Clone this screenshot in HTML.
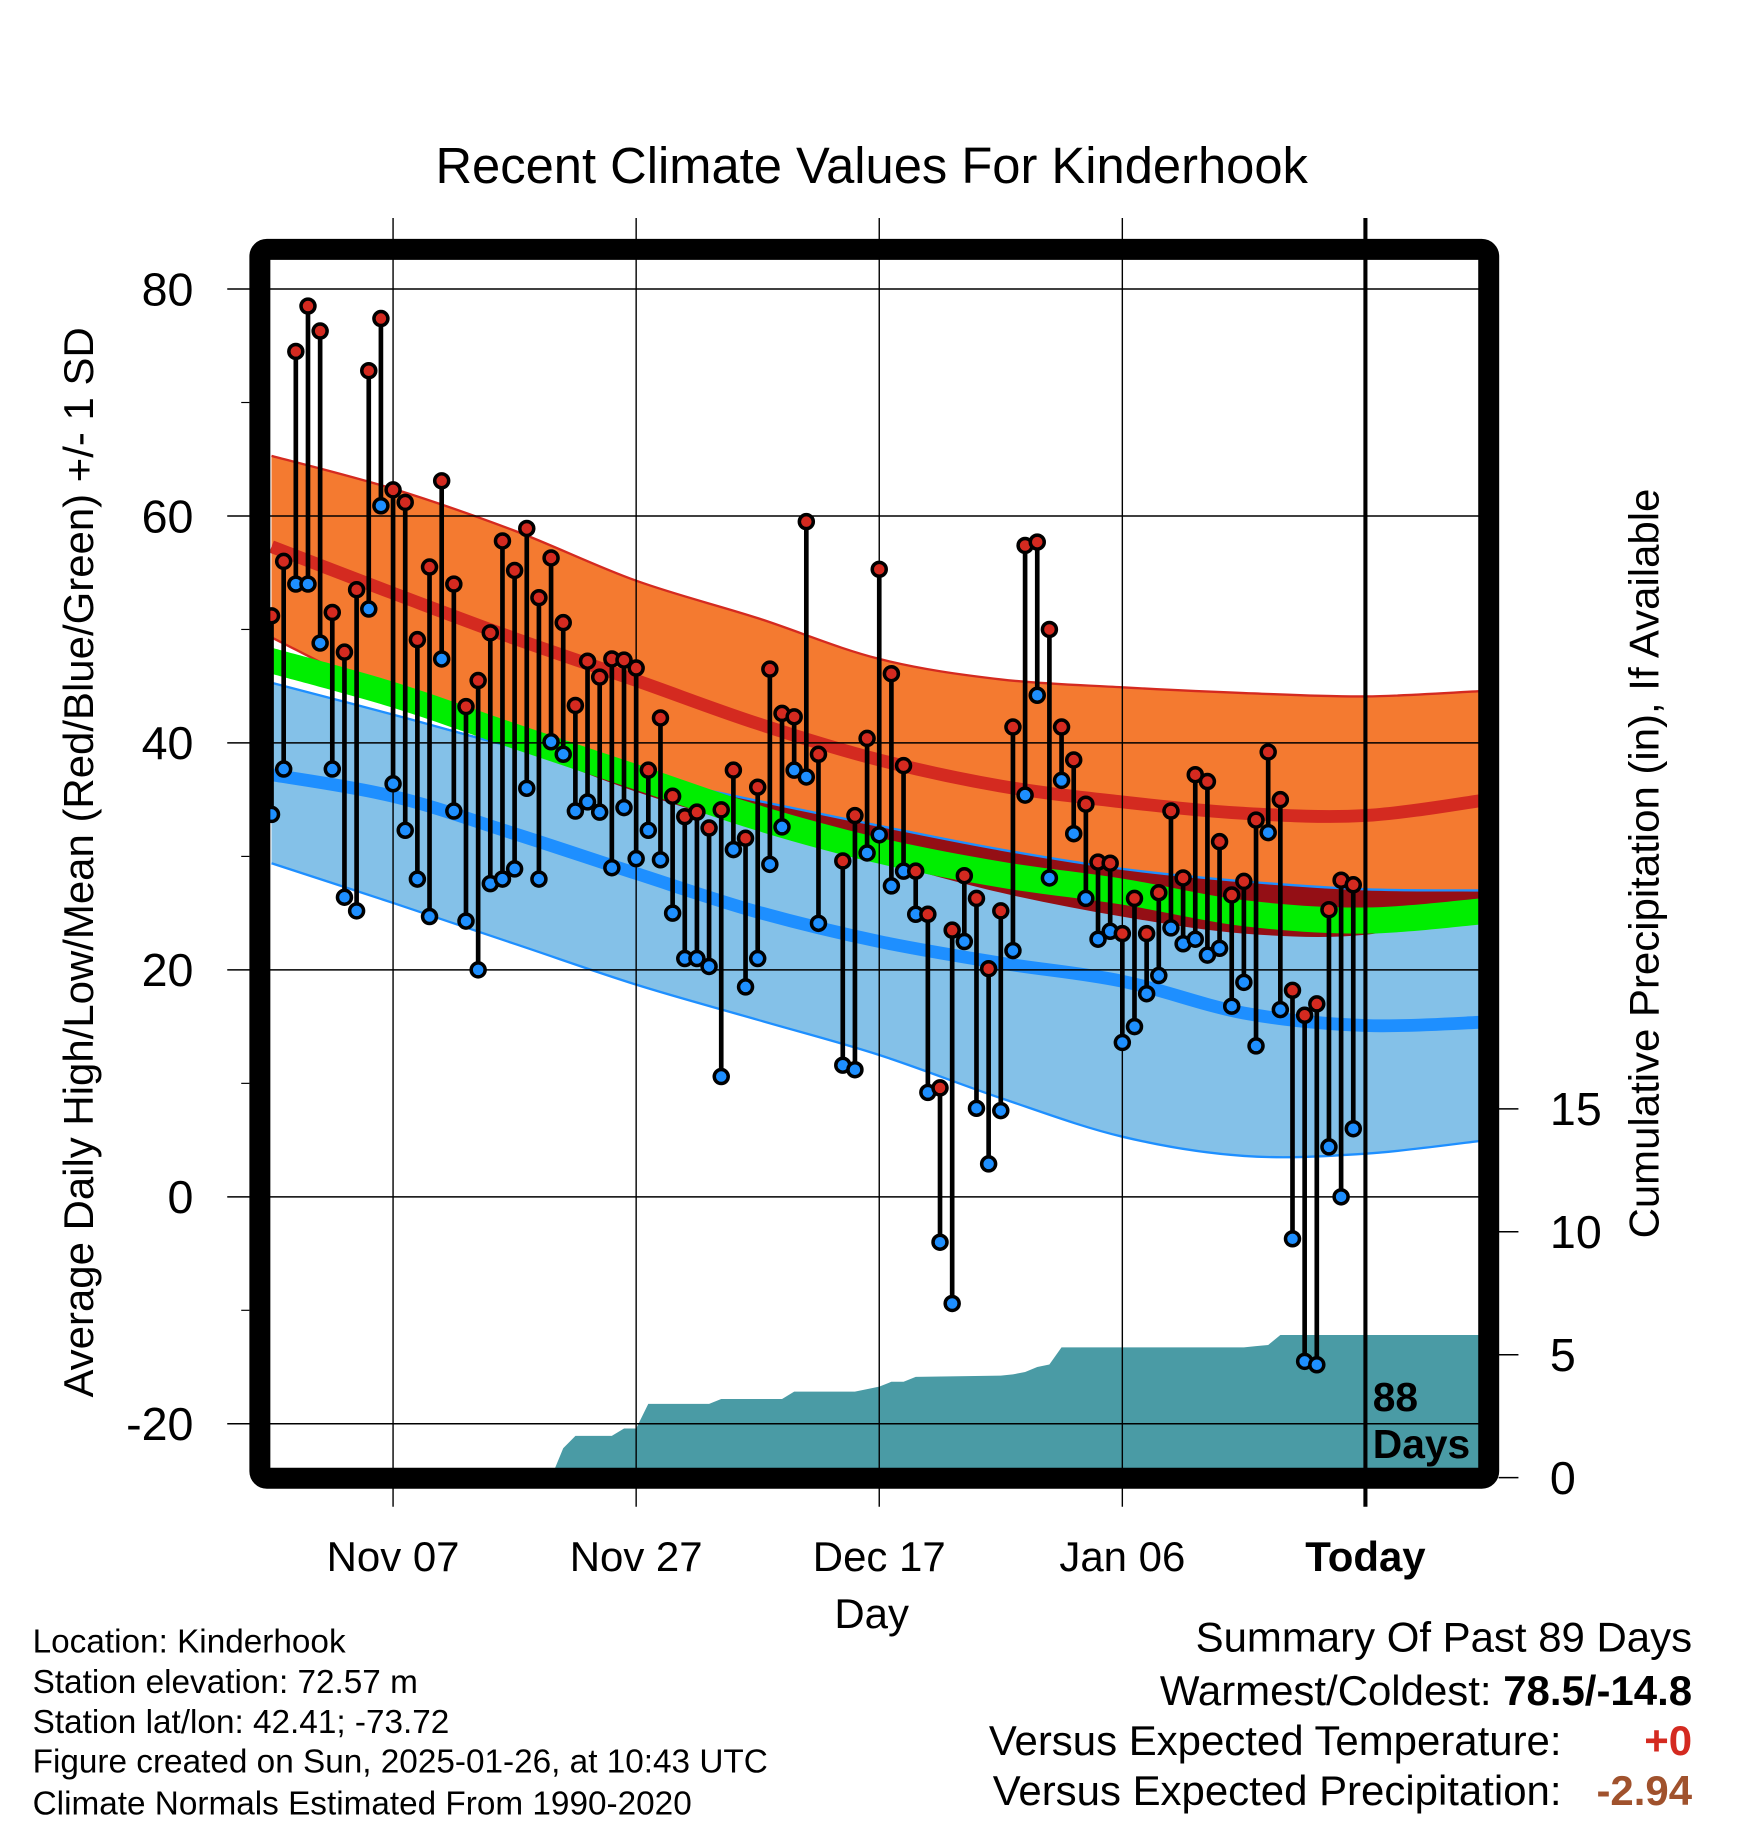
<!DOCTYPE html>
<html><head><meta charset="utf-8"><style>
html,body{margin:0;padding:0;background:#fff;}
svg{display:block;font-family:"Liberation Sans",Arial,sans-serif;}
</style></head><body>
<svg id="chart" width="1748" height="1828" viewBox="0 0 1500 1568.6" xmlns="http://www.w3.org/2000/svg">
<defs><clipPath id="plotClip"><rect x="232" y="223" width="1037" height="1037"/></clipPath></defs>
<rect x="0" y="0" width="1500" height="1568.6" fill="#fff"/>
<text x="748" y="157" font-size="43.5" text-anchor="middle">Recent Climate Values For Kinderhook</text>
<g id="plot" clip-path="url(#plotClip)"></g>
<text transform="translate(80,740) rotate(-90)" font-size="36" text-anchor="middle">Average Daily High/Low/Mean (Red/Blue/Green) +/- 1 SD</text>
<text transform="translate(1423,741) rotate(-90)" font-size="36" text-anchor="middle">Cumulative Precipitation (in), If Available</text>
<text x="748" y="1397" font-size="36" text-anchor="middle">Day</text>
<g font-size="28.6">
<text x="28" y="1418">Location: Kinderhook</text>
<text x="28" y="1453">Station elevation: 72.57 m</text>
<text x="28" y="1487">Station lat/lon: 42.41; -73.72</text>
<text x="28" y="1521">Figure created on Sun, 2025-01-26, at 10:43 UTC</text>
<text x="28" y="1557">Climate Normals Estimated From 1990-2020</text>
</g>
<g font-size="36">
<text x="1452" y="1417" text-anchor="end">Summary Of Past 89 Days</text>
<text x="1452" y="1463" text-anchor="end">Warmest/Coldest: <tspan font-weight="bold">78.5/-14.8</tspan></text>
<text x="1340" y="1506" text-anchor="end">Versus Expected Temperature:</text>
<text x="1452" y="1506" text-anchor="end" fill="#d42a20" font-weight="bold">+0</text>
<text x="1340" y="1549" text-anchor="end">Versus Expected Precipitation:</text>
<text x="1452" y="1549" text-anchor="end" fill="#a0522d" font-weight="bold">-2.94</text>
</g>
</svg>
<script>
// ---- data ----
const highs = [51.2,56,74.5,78.5,76.3,51.5,48,53.5,72.8,77.4,62.3,61.2,49.1,55.5,63.1,54,43.2,45.5,49.7,57.8,55.2,58.9,52.8,56.3,50.6,43.3,47.2,45.8,47.4,47.3,46.6,37.6,42.2,35.3,33.5,33.9,32.5,34.1,37.6,31.6,36.1,46.5,42.6,42.3,59.5,39,null,29.6,33.6,40.4,55.3,46.1,38,28.7,24.9,9.6,23.5,28.3,26.3,20.1,25.2,41.4,57.4,57.7,50,41.4,38.5,34.6,29.5,29.4,23.2,26.3,23.2,26.8,34,28.1,37.2,36.6,31.3,26.6,27.8,33.2,39.2,35,18.2,16,17,25.3,27.9,27.5];
const lows = [33.7,37.7,54,54,48.8,37.7,26.4,25.2,51.8,60.9,36.4,32.3,28,24.7,47.4,34,24.3,20,27.6,28,28.9,36,28,40.1,39,34,34.8,33.9,29,34.3,29.8,32.3,29.7,25,21,21,20.3,10.6,30.6,18.5,21,29.3,32.6,37.6,37,24.1,null,11.6,11.2,30.3,31.9,27.4,28.7,24.9,9.2,-4,-9.4,22.5,7.8,2.9,7.6,21.7,35.4,44.2,28.1,36.7,32,26.3,22.7,23.4,13.6,15,17.9,19.5,23.7,22.3,22.7,21.3,21.9,16.8,18.9,13.3,32.1,16.5,-3.7,-14.5,-14.8,4.4,0,6];
const normDays = [0,10,20,30,40,50,60,70,80,90,100];
const highPlusSD = [65.3,62.4,58.7,54.3,51,47.4,45.6,44.9,44.4,44.1,44.6];
const highMean = [57.3,53.2,49.2,45.5,41.7,38.5,36.2,34.8,33.8,33.6,35];
const highMinusSD = [49.3,44,39.7,35.7,32.4,29.6,26.8,24.7,23.2,23.1,25.4];
const lowPlusSD = [45.3,42.5,39.6,37.2,34.9,32.7,30.6,28.9,27.8,27.1,27];
const lowMean = [37.2,35.3,32,28.5,25.1,22.5,20.6,19,16.2,15.1,15.4];
const lowMinusSD = [29.4,25.9,22.3,18.7,15.6,12.5,8.7,5.3,3.6,3.8,5];
const precipDays = [23,24,25,28,29,30,31,36,37,42,43,48,49,50,51,52,53,60,61,62,63,64,65,80,81,82,83,89,100];
const precipCum = [0,1.2,1.7,1.7,2.0,2.0,3.0,3.0,3.2,3.2,3.5,3.5,3.6,3.7,3.9,3.9,4.1,4.15,4.2,4.3,4.5,4.6,5.3,5.3,5.35,5.4,5.8,5.8,5.8];
const yTicks = [80,60,40,20,0,-20];
const yMinor = [70,50,30,10,-10];
const xTickDays = [10,30,50,70,90];
const xTickLabels = ["Nov 07","Nov 27","Dec 17","Jan 06","Today"];
const pTicks = [0,5,10,15];

// ---- scales ----
const X = d => 233 + d*10.43;
const Y = v => 1027 - v*9.7375;
const P = v => 1268 - v*21.1;
const NS = "http://www.w3.org/2000/svg";
const plot = document.getElementById('plot');
const svg = document.getElementById('chart');
function mk(tag, parent, attrs){const e=document.createElementNS(NS,tag);for(const k in attrs)e.setAttribute(k,attrs[k]);parent.appendChild(e);return e;}
function xy(days, vals, sc){return days.map((d,i)=>[X(d), sc(vals[i])]);}
// Catmull-Rom segments (without initial M)
function curveSegs(p){
  let s='';
  for(let i=0;i<p.length-1;i++){
    const p0=p[Math.max(0,i-1)], p1=p[i], p2=p[i+1], p3=p[Math.min(p.length-1,i+2)];
    const c1x=p1[0]+(p2[0]-p0[0])/6, c1y=p1[1]+(p2[1]-p0[1])/6;
    const c2x=p2[0]-(p3[0]-p1[0])/6, c2y=p2[1]-(p3[1]-p1[1])/6;
    s+=` C${c1x.toFixed(1)},${c1y.toFixed(1)} ${c2x.toFixed(1)},${c2y.toFixed(1)} ${p2[0].toFixed(1)},${p2[1].toFixed(1)}`;
  }
  return s;
}
function band(top, bot, fill, name){
  const t = xy(normDays, top, Y), b = xy(normDays, bot, Y).reverse();
  const d = `M${t[0][0]},${t[0][1]}`+curveSegs(t)+` L${b[0][0]},${b[0][1]}`+curveSegs(b)+' Z';
  const e = mk('path', plot, {d:d, fill:fill});
  
  
}
function line(vals, color, w, name){
  const t = xy(normDays, vals, Y);
  const e = mk('path', plot, {d:`M${t[0][0]},${t[0][1]}`+curveSegs(t), fill:'none', stroke:color, 'stroke-width':w});
  
  
}
band(highPlusSD, highMinusSD, '#f47a30', 'high-sd-band');
line(highPlusSD, '#d42a20', 2, 'high-plus-sd-line');
line(highMinusSD, '#d42a20', 2, 'high-minus-sd-line');
band(lowPlusSD, lowMinusSD, '#84c1e8', 'low-sd-band');
const overlapBot = lowPlusSD.map((v,i)=>Math.min(v, highMinusSD[i]));
band(lowPlusSD, overlapBot, '#940f15', 'overlap-band');
line(lowPlusSD, '#1e8fff', 2, 'low-plus-sd-line');
line(lowMinusSD, '#1e8fff', 2, 'low-minus-sd-line');
const meanTop = highMean.map((v,i)=>(v+lowMean[i])/2+1.15);
const meanBot = highMean.map((v,i)=>(v+lowMean[i])/2-1.15);
band(meanTop, meanBot, '#00ee00', 'mean-band');
line(highMean, '#d42a20', 11, 'high-mean-line');
line(lowMean, '#1e8fff', 11, 'low-mean-line');
{
  const p = precipDays.map((d,i)=>X(d).toFixed(1)+','+P(precipCum[i]).toFixed(1));
  p.push(X(precipDays[precipDays.length-1]).toFixed(1)+','+P(0)); p.push(X(precipDays[0]).toFixed(1)+','+P(0));
  const e = mk('polygon', plot, {points:p.join(' '), fill:'#4a9ba5'});
  
  
}
yTicks.forEach(v=>{
  const e = mk('line', svg, {x1:195, x2:1269, y1:Y(v), y2:Y(v), stroke:'#000', 'stroke-width':1.3});
  
  
  const t = mk('text', svg, {x:166, y:Y(v)+14, 'font-size':40, 'text-anchor':'end'});
  t.textContent = v;
  
  
});
yMinor.forEach(v=>{
  const e = mk('line', svg, {x1:207, x2:214, y1:Y(v), y2:Y(v), stroke:'#000', 'stroke-width':1});
  
  
});
xTickDays.forEach((d,i)=>{
  const isToday = i===xTickDays.length-1;
  const e = mk('line', svg, {x1:X(d), x2:X(d), y1:187, y2:1293, stroke:'#000', 'stroke-width':isToday?3.5:1.2});
  
  
  const t = mk('text', svg, {x:X(d), y:1348, 'font-size':36, 'text-anchor':'middle', 'font-weight':isToday?'bold':'normal'});
  t.textContent = xTickLabels[i];
  
  
});
pTicks.forEach(v=>{
  const e = mk('line', svg, {x1:1286, x2:1303, y1:P(v), y2:P(v), stroke:'#000', 'stroke-width':1.3});
  
  
  const t = mk('text', svg, {x:1330, y:P(v)+14, 'font-size':40});
  t.textContent = v;
  
  
});
highs.forEach((h,i)=>{
  const l = lows[i];
  if(h===null||l===null) return;
  const s = mk('line', svg, {x1:X(i), x2:X(i), y1:Y(h), y2:Y(l), stroke:'#000', 'stroke-width':4});
  
  
});
highs.forEach((h,i)=>{
  const l = lows[i];
  if(h===null||l===null) return;
  const a = mk('circle', svg, {cx:X(i), cy:Y(l), r:6, fill:'#1e8fff', stroke:'#000', 'stroke-width':3});
  
  
  const b = mk('circle', svg, {cx:X(i), cy:Y(h), r:6, fill:'#d42a20', stroke:'#000', 'stroke-width':3});
  
  
});
{
  const f = mk('rect', svg, {x:223, y:214, width:1054.5, height:1054.5, rx:6, fill:'none', stroke:'#000', 'stroke-width':18});
  
  
  const t1 = mk('text', svg, {x:1178, y:1211, 'font-size':35, 'font-weight':'bold'});
  t1.textContent = '88';
  
  
  const t2 = mk('text', svg, {x:1178, y:1251, 'font-size':35, 'font-weight':'bold'});
  t2.textContent = 'Days';
  
  
}
</script>
</body></html>
